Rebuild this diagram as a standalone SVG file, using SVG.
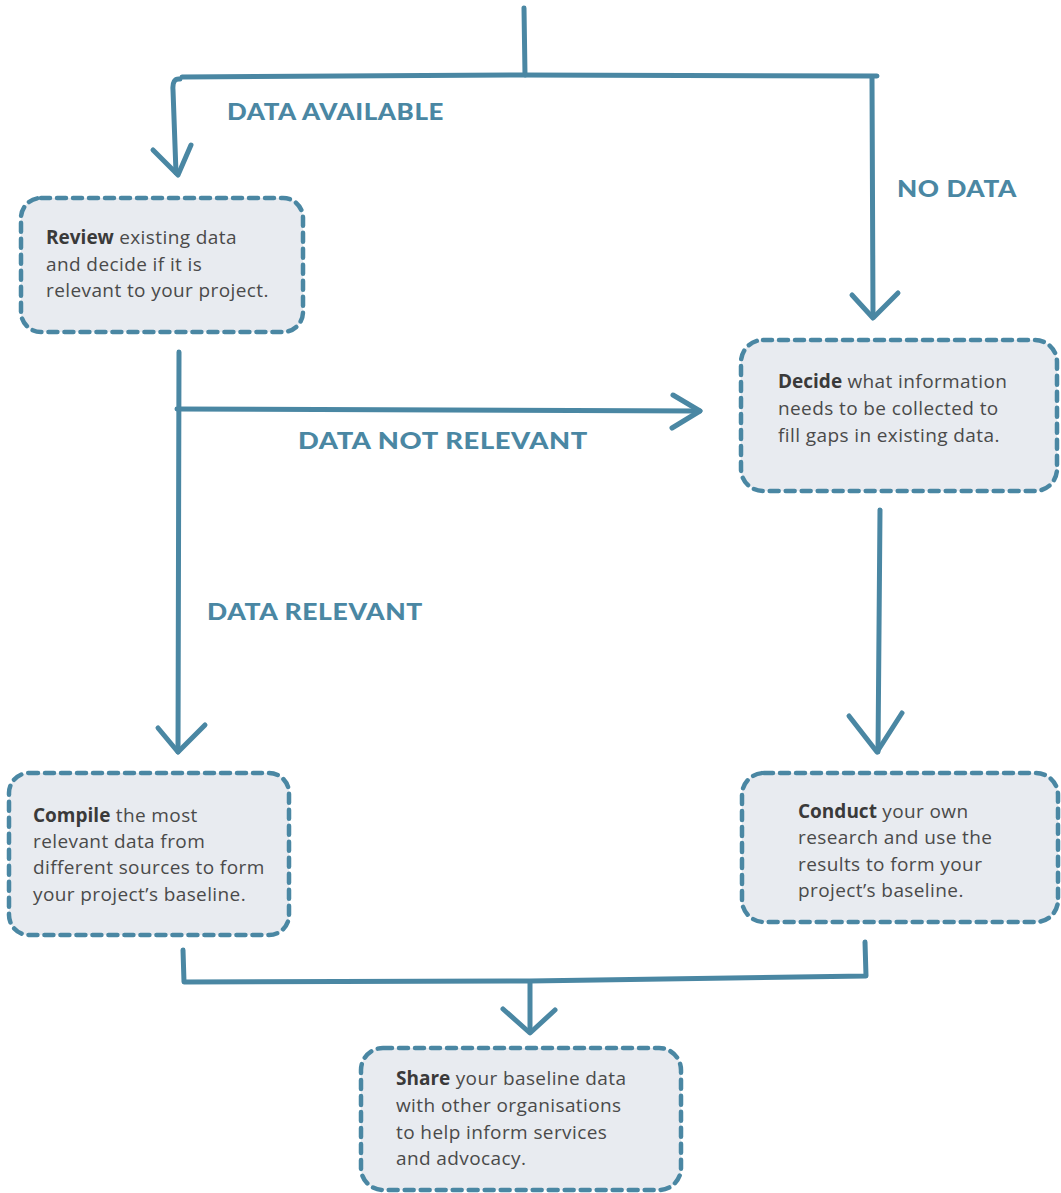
<svg xmlns="http://www.w3.org/2000/svg" width="1061" height="1193" viewBox="0 0 1061 1193">
<style>
.box{fill:#e8ebf0;stroke:#4a87a3;stroke-width:4.5;stroke-dasharray:9 7;stroke-linecap:round}
.ln{fill:none;stroke:#4a87a3;stroke-width:5;stroke-linecap:round;stroke-linejoin:round}
.lbl{font-family:Lato,"Open Sans",sans-serif;font-weight:900;font-size:22px;fill:#4a87a3;letter-spacing:0.5px}
.t{font-family:"Open Sans",Lato,sans-serif;font-size:19px;letter-spacing:0.4px;fill:#4a4a4a}
.t tspan.b{font-weight:700;fill:#3a3a3a;letter-spacing:0}
</style>
<rect width="1061" height="1193" fill="#fff"/>
<g id="connectors">
<path class="ln" d="M524 8 L525 75"/>
<path class="ln" d="M180 79 Q172 78 173 90 L176 173 M877 76 L520 75 L182 77"/>
<path class="ln" d="M153 150 L178 175 L191 145"/>
<path class="ln" d="M872 78 L873 316"/>
<path class="ln" d="M852 295 L873 318 L898 293"/>
<path class="ln" d="M179 352 L178 752"/>
<path class="ln" d="M158 728 L178 752 L205 725"/>
<path class="ln" d="M177 409 L700 411"/>
<path class="ln" d="M673 395 L700 411 L672 428"/>
<path class="ln" d="M880 510 L878 752"/>
<path class="ln" d="M849 716 L877 752 L902 713"/>
<path class="ln" d="M183 950 L184 982 L530 981 L866 976 L865 942"/>
<path class="ln" d="M530 982 L530 1031"/>
<path class="ln" d="M503 1009 L530 1033 L555 1010"/>
<text class="lbl" x="227" y="120" textLength="217" lengthAdjust="spacingAndGlyphs">DATA AVAILABLE</text>
<text class="lbl" x="897" y="197" textLength="120" lengthAdjust="spacingAndGlyphs">NO DATA</text>
<text class="lbl" x="298" y="449" textLength="290" lengthAdjust="spacingAndGlyphs">DATA NOT RELEVANT</text>
<text class="lbl" x="207" y="620" textLength="216" lengthAdjust="spacingAndGlyphs">DATA RELEVANT</text>
</g>
<g id="review">
<rect class="box" x="21" y="198" width="282" height="134" rx="20"/>
<text class="t" x="46" y="244"><tspan class="b">Review</tspan> existing data</text>
<text class="t" x="46" y="271">and decide if it is</text>
<text class="t" x="46" y="297">relevant to your project.</text>
</g>
<g id="decide">
<rect class="box" x="741" y="340" width="316" height="151" rx="22"/>
<text class="t" x="778" y="388"><tspan class="b">Decide</tspan> what information</text>
<text class="t" x="778" y="415">needs to be collected to</text>
<text class="t" x="778" y="442">fill gaps in existing data.</text>
</g>
<g id="compile">
<rect class="box" x="9" y="773" width="280" height="162" rx="20"/>
<text class="t" x="33" y="822"><tspan class="b">Compile</tspan> the most</text>
<text class="t" x="33" y="848">relevant data from</text>
<text class="t" x="33" y="874">different sources to form</text>
<text class="t" x="33" y="901">your project’s baseline.</text>
</g>
<g id="conduct">
<rect class="box" x="742" y="773" width="316" height="149" rx="22"/>
<text class="t" x="798" y="818"><tspan class="b">Conduct</tspan> your own</text>
<text class="t" x="798" y="844">research and use the</text>
<text class="t" x="798" y="871">results to form your</text>
<text class="t" x="798" y="897">project’s baseline.</text>
</g>
<g id="share">
<rect class="box" x="361" y="1048" width="320" height="142" rx="22"/>
<text class="t" x="396" y="1085"><tspan class="b">Share</tspan> your baseline data</text>
<text class="t" x="396" y="1112">with other organisations</text>
<text class="t" x="396" y="1139">to help inform services</text>
<text class="t" x="396" y="1165">and advocacy.</text>
</g>
</svg>
